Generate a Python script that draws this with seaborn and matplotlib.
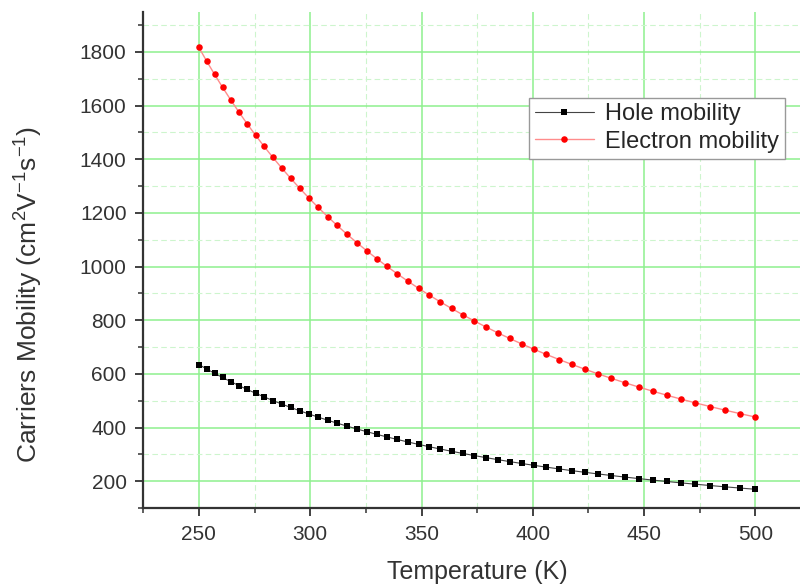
import numpy as np
import pandas as pd
import matplotlib
matplotlib.use("Agg")
import matplotlib.pyplot as plt
from matplotlib.ticker import MultipleLocator
import seaborn as sns

temperature = [250.0, 253.49, 257.03, 260.62, 264.26, 267.94, 271.68, 275.48, 279.32, 283.22,
               287.17, 291.18, 295.25, 299.37, 303.55, 307.79, 312.08, 316.44, 320.86, 325.34,
               329.88, 334.49, 339.16, 343.89, 348.69, 353.55, 358.49, 363.50, 368.57, 373.72,
               378.93, 384.22, 389.59, 395.03, 400.54, 406.13, 411.80, 417.55, 423.38, 429.29,
               435.28, 441.36, 447.52, 453.77, 460.10, 466.53, 473.04, 479.64, 486.34, 493.13,
               500.0]
hole_mobility = [635, 618.5, 602.4, 586.7, 571.5, 556.6, 542.1, 528.0, 514.3, 500.9,
                 487.9, 475.2, 462.8, 450.8, 439.1, 427.6, 416.5, 405.7, 395.1, 384.8,
                 374.8, 365.1, 355.6, 346.3, 337.3, 328.5, 320.0, 311.7, 303.6, 295.7,
                 288.0, 280.5, 273.2, 266.1, 259.2, 252.4, 245.9, 239.5, 233.2, 227.2,
                 221.3, 215.5, 209.9, 204.4, 199.1, 193.9, 188.9, 184.0, 179.2, 174.5,
                 170.0]
electron_mobility = [1817, 1766.1, 1716.7, 1668.6, 1621.9, 1576.5, 1532.3, 1489.4, 1447.7, 1407.2,
                     1367.8, 1329.5, 1292.3, 1256.1, 1220.9, 1186.7, 1153.5, 1121.2, 1089.8, 1059.3,
                     1029.6, 1000.8, 972.8, 945.5, 919.0, 893.3, 868.3, 844.0, 820.3, 797.4,
                     775.0, 753.3, 732.2, 711.7, 691.8, 672.4, 653.6, 635.3, 617.5, 600.2,
                     583.4, 567.1, 551.2, 535.8, 520.8, 506.2, 492.0, 478.3, 464.9, 451.9,
                     439.2]
x_ticks = [250, 300, 350, 400, 450, 500]
y_ticks = [200, 400, 600, 800, 1000, 1200, 1400, 1600, 1800]

sns.set_theme(style="white")
plt.rcParams['font.family'] = ['Liberation Sans', 'DejaVu Sans']
plt.rcParams['mathtext.fontset'] = 'custom'
plt.rcParams['mathtext.rm'] = 'Liberation Sans'
plt.rcParams['mathtext.it'] = 'Liberation Sans'

df_h = pd.DataFrame({"T": temperature, "mu": hole_mobility})
df_e = pd.DataFrame({"T": temperature, "mu": electron_mobility})

fig = plt.figure(figsize=(8.0, 5.86), dpi=100)
ax = fig.add_axes([0.179, 0.133, 0.821, 0.847])

sns.lineplot(data=df_h, x="T", y="mu", ax=ax, color="#444444", linewidth=0.8,
             marker="s", markersize=4.3, markeredgewidth=0, markerfacecolor="black",
             label="Hole mobility", zorder=3)
sns.lineplot(data=df_e, x="T", y="mu", ax=ax, color="#ff8c8c", linewidth=1.0,
             marker="o", markersize=4.7, markeredgewidth=0, markerfacecolor="red",
             label="Electron mobility", zorder=3)

ax.set_xlim(225, 520)
ax.set_ylim(100, 1950)
ax.set_xticks(x_ticks)
ax.set_yticks(y_ticks)
ax.xaxis.set_minor_locator(MultipleLocator(25))
ax.yaxis.set_minor_locator(MultipleLocator(100))

ax.grid(which="major", color="#8ef08e", linewidth=1.1, linestyle="-", zorder=0)
ax.grid(which="minor", color="#cdf5cd", linewidth=0.8, linestyle=(0, (5, 3)), zorder=0)
ax.set_axisbelow(True)

for s in ["top", "right"]:
    ax.spines[s].set_visible(False)
for s in ["left", "bottom"]:
    ax.spines[s].set_color("#333333")
    ax.spines[s].set_linewidth(1.6)

ax.tick_params(which="major", direction="out", length=6, width=1.3, color="#333333",
               labelsize=15, labelcolor="#333333", left=True, bottom=True, pad=6)
ax.tick_params(which="minor", direction="out", length=3.5, width=1.1, color="#333333",
               left=True, bottom=True)

ax.set_xlabel("Temperature (K)", fontsize=18, color="#333333")
ax.set_ylabel("Carriers Mobility (cm$^{2}$V$^{-1}$s$^{-1}$)", fontsize=19, color="#333333")
ax.xaxis.set_label_coords(0.508, -0.105)
ax.yaxis.set_label_coords(-0.15, 0.43)

leg = ax.legend(loc="upper left", bbox_to_anchor=(0.587, 0.827), fontsize=17,
                frameon=True, fancybox=False, edgecolor="#999999", framealpha=1,
                handlelength=2.5, borderpad=0.25, labelspacing=0.22, handletextpad=0.5,
                borderaxespad=0)
leg.get_frame().set_linewidth(1.0)

fig.savefig("out.png", dpi=100)
